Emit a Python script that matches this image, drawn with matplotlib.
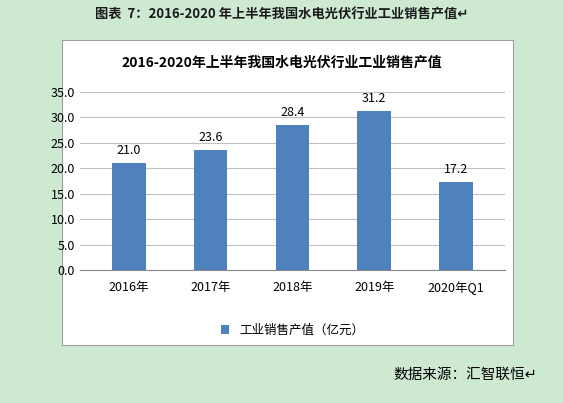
import matplotlib
matplotlib.use("Agg")
import matplotlib.pyplot as plt

categories = ["2016年", "2017年", "2018年", "2019年", "2020年Q1"]
values = [21.0, 23.6, 28.4, 31.2, 17.2]
yticks = [0.0, 5.0, 10.0, 15.0, 20.0, 25.0, 30.0, 35.0]

plt.rcParams['font.family'] = ['Noto Sans CJK SC', 'DejaVu Sans']
fig = plt.figure(figsize=(5.63, 4.03), dpi=100)
fig.patch.set_facecolor('#cde9d2')
bg = fig.add_axes([0.110, 0.144, 0.801, 0.757], zorder=0)
bg.set_facecolor('white')
bg.set_xticks([]); bg.set_yticks([])
for s in bg.spines.values():
    s.set_color('#a0a0a0'); s.set_linewidth(0.8)

ax = fig.add_axes([0.142, 0.330, 0.755, 0.442], zorder=1)
ax.patch.set_alpha(0)
x = range(len(categories))
ax.bar(x, values, width=0.41, color='#4f81bd', label='工业销售产值（亿元）', zorder=3)
for xi, v in zip(x, values):
    ax.text(xi, v + 1.2, f"{v:.1f}", ha='center', va='bottom', fontsize=9)
ax.set_ylim(0, 35)
ax.set_yticks(yticks)
ax.set_yticklabels([f"{t:.1f}" for t in yticks], fontsize=9)
ax.set_xticks(list(x))
ax.set_xticklabels(categories, fontsize=9)
ax.set_xlim(-0.6, 4.6)
ax.yaxis.grid(True, color='#bfbfbf', lw=0.8, zorder=0)
ax.set_axisbelow(True)
for s in ['top', 'right', 'left']:
    ax.spines[s].set_visible(False)
ax.spines['bottom'].set_color('#888888')
ax.tick_params(axis='y', length=0)
ax.tick_params(axis='x', length=0, pad=8)
ax.legend(loc='center', bbox_to_anchor=(0.5, -0.34), frameon=False, fontsize=9,
          handlelength=0.7, handleheight=0.7)
fig.text(0.5, 0.835, "2016-2020年上半年我国水电光伏行业工业销售产值", ha='center',
         fontsize=10, fontweight='bold')
fig.text(0.5, 0.955, "图表  7：2016-2020 年上半年我国水电光伏行业工业销售产值↵", ha='center',
         fontsize=9.5, fontweight='bold', color='#1a1a1a')
fig.text(0.955, 0.06, "数据来源：汇智联恒↵", ha='right', fontsize=10.5)
fig.savefig("out.png", dpi=100, facecolor=fig.get_facecolor())
